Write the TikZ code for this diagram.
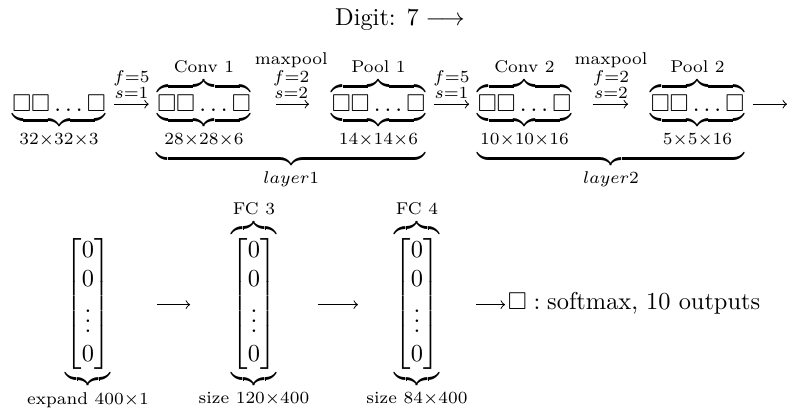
\documentclass[tikz,border=0pt]{standalone}
\usepackage{amsmath, amssymb}
\usetikzlibrary{calc, positioning}

\newcommand{\cells}{\Box\Box\ldots\Box}
\newcommand{\zerocol}{\begin{bmatrix}0\\0\\\vdots\\0\end{bmatrix}}

\tikzset{
  block/.style={anchor=base, inner sep=3.3pt},
  steplabel/.style={above=2pt, inner sep=0pt},
}

\begin{document}
\begin{tikzpicture}[x=0.41pt, y=-0.41pt, >=to]
  \useasboundingbox (0,0) rectangle (788,411);
  % Title
  \node (digit) at (400,20) {Digit: $7\longrightarrow$};
  % First row: input and feature maps
  \node[block] (in) at (59,111.5) {$\underbrace{\cells}_{32\times32\times3}$};
  \node[block] (conv1) at (204,111.5) {$\underbrace{\overbrace{\cells}^{\text{Conv 1}}}_{28\times28\times6}$};
  \node[block] (pool1) at (378.5,111.5) {$\underbrace{\overbrace{\cells}^{\text{Pool 1}}}_{14\times14\times6}$};
  \node[block] (conv2) at (524.5,111.5) {$\underbrace{\overbrace{\cells}^{\text{Conv 2}}}_{10\times10\times16}$};
  \node[block] (pool2) at (697.5,111.5) {$\underbrace{\overbrace{\cells}^{\text{Pool 2}}}_{5\times5\times16}$};
  \coordinate (wrap) at (787,111.5);
  % Arrows between the maps
  \draw[->] ([yshift=3pt]in.base east) -- node[steplabel] {$\substack{f=5\\s=1}$} ([yshift=3pt]conv1.base west);
  \draw[->, shorten <=7pt, shorten >=5.8pt] ([yshift=3pt]conv1.base east) -- node[steplabel] {$\substack{\text{maxpool}\\f=2\\s=2}$} ([yshift=3pt]pool1.base west);
  \draw[->] ([yshift=3pt]pool1.base east) -- node[steplabel] {$\substack{f=5\\s=1}$} ([yshift=3pt]conv2.base west);
  \draw[->, shorten <=5.3pt, shorten >=5.8pt] ([yshift=3pt]conv2.base east) -- node[steplabel] {$\substack{\text{maxpool}\\f=2\\s=2}$} ([yshift=3pt]pool2.base west);
  \draw[->] ([yshift=3pt]pool2.base east) -- ([yshift=3pt]wrap);
  % Layer braces
  \path let \p1 = ($(pool1.east)-(conv1.west)$) in
    node[anchor=north, inner sep=0pt, yshift=3.2pt] (layer1) at ($(conv1.south west)!0.5!(pool1.south east)$)
    {$\underbrace{\hspace{\dimexpr\x1-6.6pt\relax}}_{layer1}$};
  \path let \p1 = ($(pool2.east)-(conv2.west)$) in
    node[anchor=north, inner sep=0pt, yshift=3.2pt] (layer2) at ($(conv2.south west)!0.5!(pool2.south east)$)
    {$\underbrace{\hspace{\dimexpr\x1-6.6pt\relax}}_{layer2}$};
  % Second row: fully connected part
  \node[block] (flat) at (88,310) {$\underbrace{\zerocol}_{\text{expand }400\times1}$};
  \node[block] (fc3) at (254,310) {$\underbrace{\overbrace{\zerocol}^{\text{FC 3}}}_{\text{size }120\times400}$};
  \node[block] (fc4) at (417,310) {$\underbrace{\overbrace{\zerocol}^{\text{FC 4}}}_{\text{size }84\times400}$};
  \node[anchor=base west, inner sep=1pt] (out) at (505,310) {$\Box:\text{softmax, 10 outputs}$};
  \draw[->] ([yshift=2.2pt]flat.base east) -- ([yshift=2.2pt]fc3.base west);
  \draw[->] ([yshift=2.2pt]fc3.base east) -- ([yshift=2.2pt]fc4.base west);
  \draw[->] ([yshift=2.2pt]fc4.base east) -- ([yshift=2.2pt]out.base west);
\end{tikzpicture}
\end{document}
